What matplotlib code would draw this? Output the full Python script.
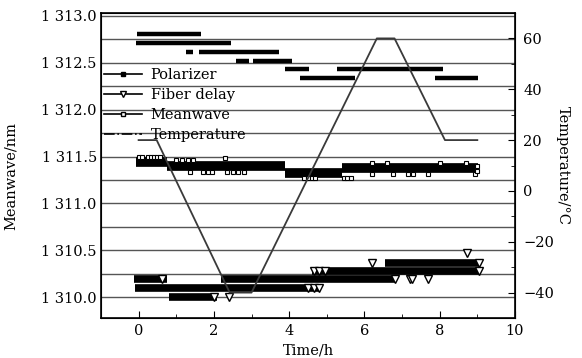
import matplotlib
matplotlib.use("Agg")
import matplotlib.pyplot as plt
from matplotlib.lines import Line2D
from matplotlib.ticker import MultipleLocator, FuncFormatter

plt.rcParams['font.family'] = ['DejaVu Serif']
plt.rcParams['mathtext.fontset'] = 'dejavuserif'

# polarizer readings: runs of constant level (start h, end h, nm)
pol_start = [-0.05, -0.08, 1.25, 1.60, 2.58, 3.03, 3.88, 4.28, 5.27, 7.87]
pol_end = [1.65, 2.45, 1.44, 3.72, 2.93, 4.07, 4.52, 5.74, 8.09, 9.02]
pol_level = [1312.81, 1312.71, 1312.62, 1312.62, 1312.52, 1312.52,
             1312.43, 1312.34, 1312.43, 1312.34]

# fiber delay runs
fib_start = [-0.13, -0.10, 0.80, 2.20, 4.60, 6.55]
fib_end = [0.75, 4.80, 2.08, 6.80, 9.05, 9.05]
fib_level = [1310.19, 1310.10, 1310.00, 1310.19, 1310.28, 1310.36]
# single fiber delay points
fib_t = [0.62, 2.00, 2.40, 4.50, 4.65, 4.80, 4.65, 4.80, 4.95, 6.20,
         6.80, 7.20, 7.27, 7.70, 8.72, 9.05, 9.05]
fib_v = [1310.19, 1310.00, 1310.00, 1310.10, 1310.10, 1310.10, 1310.28,
         1310.28, 1310.28, 1310.36, 1310.19, 1310.19, 1310.19, 1310.19,
         1310.47, 1310.36, 1310.28]

# meanwave runs
mw_start = [-0.08, 0.75, 3.90, 5.40]
mw_end = [0.75, 3.90, 5.40, 9.02]
mw_level = [1311.44, 1311.40, 1311.32, 1311.38]
# single meanwave points
mw_t = [0.00, 0.08, 0.25, 0.33, 0.42, 0.50, 0.58, 1.00, 1.15, 1.30, 1.45,
        2.30, 1.36, 1.72, 1.85, 1.95, 2.35, 2.50, 2.65, 2.80, 4.40, 4.50,
        4.60, 4.70, 5.45, 5.55, 5.65, 6.20, 6.60, 8.00, 8.70, 6.20, 6.75,
        7.15, 7.30, 7.70, 8.95, 9.00, 9.00]
mw_v = [1311.50, 1311.50, 1311.50, 1311.50, 1311.50, 1311.50, 1311.50,
        1311.46, 1311.46, 1311.46, 1311.46, 1311.48, 1311.33, 1311.33,
        1311.33, 1311.33, 1311.33, 1311.33, 1311.33, 1311.33, 1311.27,
        1311.27, 1311.27, 1311.27, 1311.27, 1311.27, 1311.27, 1311.43,
        1311.43, 1311.43, 1311.43, 1311.31, 1311.31, 1311.31, 1311.31,
        1311.31, 1311.31, 1311.40, 1311.35]

# oven temperature
temp_t = [0, 0.48, 2.42, 3.0, 6.33, 6.8, 8.14, 9.0]
temp_c = [20, 20, -40, -40, 60, 60, 20, 20]

fig = plt.figure(figsize=(5.82, 3.58), dpi=100)
ax = fig.add_axes([0.1735, 0.1117, 0.7113, 0.852])

ax.hlines(pol_level, pol_start, pol_end, color='black', lw=3.2, capstyle='butt', zorder=3)
ax.hlines(fib_level, fib_start, fib_end, color='black', lw=5.5, capstyle='butt', zorder=3)
ax.plot(fib_t, fib_v, 'v', ls='none', ms=6, mfc='white', mec='black', mew=1.0, zorder=4)
ax.hlines(mw_level, mw_start, mw_end, color='black', lw=7.0, capstyle='butt', zorder=3)
ax.plot(mw_t, mw_v, 's', ls='none', ms=3, mfc='white', mec='black', mew=0.8, zorder=4)

ax.set_xlim(-1, 10)
ax.set_ylim(1309.776, 1313.032)
ax.xaxis.set_major_locator(MultipleLocator(2))
ax.xaxis.set_minor_locator(MultipleLocator(1))
ax.yaxis.set_major_locator(MultipleLocator(0.5))
ax.yaxis.set_minor_locator(MultipleLocator(0.25))
ax.yaxis.set_major_formatter(FuncFormatter(lambda v, p: f"{v:,.1f}".replace(',', ' ')))
ax.grid(axis='y', which='both', color='#555555', lw=1.0)
ax.set_axisbelow(True)
ax.tick_params(axis='x', which='both', direction='in', labelsize=10.5, pad=4)
ax.tick_params(axis='x', which='major', length=5)
ax.tick_params(axis='x', which='minor', length=3)
ax.tick_params(axis='y', which='both', length=0, labelsize=10.5, pad=3)
for s in ax.spines.values():
    s.set_linewidth(1.2)

ax.set_xlabel('Time/h', fontsize=10.5)
ax.xaxis.set_label_coords(0.501, -0.085)
ax.set_ylabel('Meanwave/nm', fontsize=10.5)
ax.yaxis.set_label_coords(-0.2, 0.467)

ax2 = ax.twinx()
ax2.plot(temp_t, temp_c, color='#3a3a3a', lw=1.3, zorder=5)
ax2.set_ylim(-50, 70)
ax2.yaxis.set_major_locator(MultipleLocator(20))
ax2.yaxis.set_minor_locator(MultipleLocator(10))
ax2.tick_params(axis='y', which='both', direction='in', labelsize=10.5, pad=6)
ax2.tick_params(axis='y', which='major', length=5)
ax2.tick_params(axis='y', which='minor', length=3)
ax2.set_ylabel('Temperature/°C', fontsize=10.5, rotation=270)
ax2.yaxis.set_label_coords(1.133, 0.50)

handles = [
    Line2D([], [], color='black', lw=1.2, marker='s', ms=3.5, mfc='black', mec='black'),
    Line2D([], [], color='black', lw=1.2, marker='v', ms=5, mfc='white', mec='black'),
    Line2D([], [], color='black', lw=1.2, marker='s', ms=3, mfc='white', mec='black'),
    Line2D([], [], color='black', lw=1.2, ls='-.'),
]
labels = ['Polarizer', 'Fiber delay', 'Meanwave', 'Temperature']
ax.legend(handles, labels, loc='upper left', bbox_to_anchor=(0.007, 0.82),
          frameon=False, fontsize=10.5, handlelength=2.6, handletextpad=0.6,
          labelspacing=0.42, borderpad=0, borderaxespad=0)

fig.savefig('out.png', dpi=100)
